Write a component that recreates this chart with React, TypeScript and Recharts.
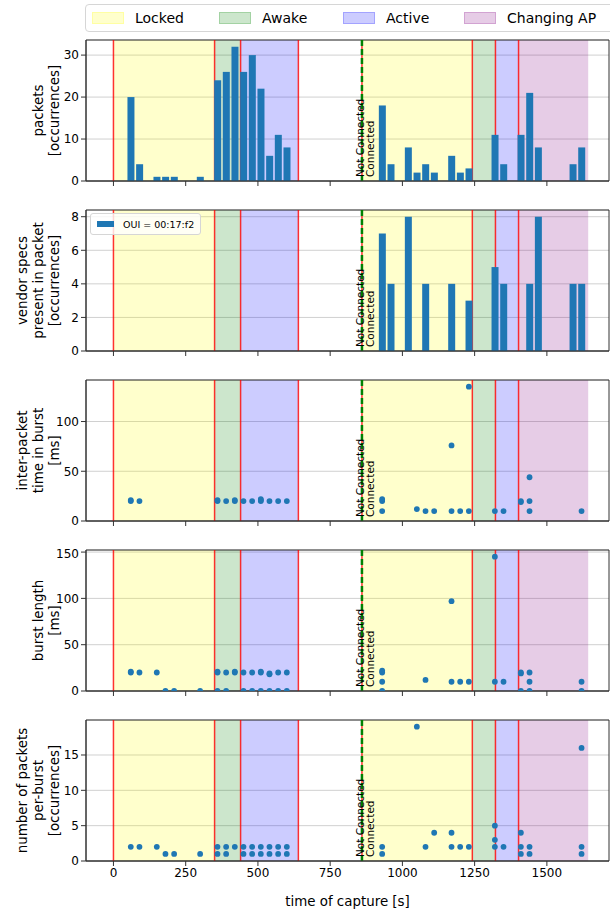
import React from 'react';
import {
  ComposedChart,
  Bar,
  Scatter,
  XAxis,
  YAxis,
  CartesianGrid,
  ReferenceArea,
  ReferenceLine,
} from 'recharts';

// shared time axis
const X_DOMAIN: [number, number] = [-95, 1715];
const xTicks = [0, 250, 500, 750, 1000, 1250, 1500];

// state spans
const spanStart = [0, 350, 440, 860, 1242, 1322, 1402];
const spanEnd = [350, 440, 640, 1242, 1322, 1402, 1643];
const spanState = ['Locked', 'Awake', 'Active', 'Locked', 'Awake', 'Active', 'Changing AP'];
const redLineTimes = [0, 350, 440, 640, 860, 1242, 1322, 1402];
const connectTime = 860;

const stateNames = ['Locked', 'Awake', 'Active', 'Changing AP'];
const stateColors: Record<string, string> = {
  Locked: '#ffff00',
  Awake: '#008000',
  Active: '#0000ff',
  'Changing AP': '#800080',
};

// packets
const packetTimes = [60, 90, 150, 180, 210, 300, 360, 390, 420, 450, 480, 510, 540, 570, 600, 930, 960, 1020, 1050, 1080, 1110, 1170, 1200, 1230, 1320, 1350, 1410, 1440, 1470, 1590, 1620];
const packetCounts = [20, 4, 1, 1, 1, 1, 24, 26, 32, 26, 30, 22, 6, 11, 8, 18, 4, 8, 2, 4, 2, 6, 2, 3, 11, 4, 11, 21, 8, 4, 8];

// vendor specs (OUI = 00:17:f2)
const vendorTimes = [930, 960, 1020, 1080, 1170, 1230, 1320, 1350, 1440, 1470, 1590, 1620];
const vendorCounts = [7, 4, 8, 4, 4, 3, 5, 4, 4, 8, 4, 4];

// inter-packet time in burst [ms]
const interTimes = [60, 60, 90, 360, 360, 390, 420, 420, 450, 480, 510, 510, 510, 540, 570, 600, 930, 930, 930, 1050, 1080, 1110, 1170, 1170, 1200, 1230, 1230, 1320, 1350, 1410, 1410, 1440, 1440, 1440, 1620];
const interValues = [20, 21, 20, 20, 21, 20, 20, 21, 20, 20, 20, 21, 22, 20, 20, 20, 10, 20, 22, 12, 10, 10, 10, 76, 10, 10, 135, 10, 10, 19, 20, 10, 20, 44, 10];

// burst length [ms]
const burstTimes = [60, 60, 90, 150, 180, 210, 300, 360, 360, 360, 390, 390, 420, 420, 450, 450, 480, 480, 510, 510, 510, 540, 540, 540, 570, 570, 600, 600, 930, 930, 930, 930, 1080, 1170, 1170, 1200, 1230, 1320, 1320, 1350, 1410, 1410, 1410, 1440, 1440, 1440, 1620, 1620];
const burstValues = [20, 21, 20, 20, 0, 0, 0, 0, 20, 21, 0, 20, 20, 21, 0, 20, 0, 20, 0, 20, 21, 0, 18, 19, 0, 20, 0, 20, 0, 10, 20, 22, 12, 10, 97, 10, 10, 10, 145, 10, 0, 19, 20, 0, 10, 20, 0, 10];

// packets per burst
const perBurstTimes = [60, 90, 150, 180, 210, 300, 360, 360, 390, 390, 420, 450, 450, 480, 480, 510, 510, 540, 540, 570, 570, 600, 600, 930, 930, 1050, 1080, 1110, 1170, 1170, 1200, 1230, 1320, 1320, 1320, 1350, 1410, 1410, 1410, 1440, 1440, 1620, 1620, 1620];
const perBurstValues = [2, 2, 2, 1, 1, 1, 1, 2, 1, 2, 2, 1, 2, 1, 2, 1, 2, 1, 2, 1, 2, 1, 2, 1, 2, 19, 2, 4, 2, 4, 2, 2, 2, 3, 5, 2, 1, 2, 4, 1, 2, 1, 2, 16];

const BLUE = '#1f77b4';
const PLOT_H = 141;

const connectLabel = (props: any) => {
  const vb = props.viewBox || {};
  const x = vb.x;
  const bottom = vb.y + vb.height - 4;
  const a = x + 1.7;
  const b = x + 11.7;
  return (
    <g>
      <text x={a} y={bottom} transform={`rotate(-90 ${a} ${bottom})`} fontSize={10.5} fill="#000">
        Not Connected
      </text>
      <text x={b} y={bottom} transform={`rotate(-90 ${b} ${bottom})`} fontSize={10.5} fill="#000">
        Connected
      </text>
    </g>
  );
};

const yLabel = (lines: string[]) => (props: any) => {
  const vb = props.viewBox || {};
  const cy = vb.y + vb.height / 2;
  const n = lines.length;
  return (
    <g>
      {lines.map((l, i) => {
        const cx = 54.5 - (n - 1 - i) * 16;
        return (
          <text
            key={i}
            x={cx}
            y={cy}
            transform={`rotate(-90 ${cx} ${cy})`}
            textAnchor="middle"
            dominantBaseline="central"
            fontSize={13.4}
            fill="#000"
          >
            {l}
          </text>
        );
      })}
    </g>
  );
};

const dot = (props: any) => <circle cx={props.cx} cy={props.cy} r={2.9} fill={BLUE} />;

interface PanelProps {
  top: number;
  xs: number[];
  ys: number[];
  kind: 'bar' | 'scatter';
  yMax: number;
  yTicks: number[];
  label: string[];
  bottom?: boolean;
}

function Panel({ top, xs, ys, kind, yMax, yTicks, label, bottom }: PanelProps) {
  const data = xs.map((x, i) => ({ x, y: ys[i] }));
  const axisH = bottom ? 50 : 30;
  return (
    <div style={{ position: 'absolute', left: 0, top: top - 4 }}>
      <ComposedChart
        width={610}
        height={4 + PLOT_H + axisH}
        data={data}
        margin={{ top: 4, right: 1, bottom: 0, left: 46 }}
      >
        <CartesianGrid vertical={false} stroke="#d0d0d0" />
        <XAxis
          type="number"
          dataKey="x"
          domain={X_DOMAIN}
          ticks={xTicks}
          allowDataOverflow
          height={axisH}
          tickSize={5}
          tickMargin={2}
          axisLine={{ stroke: '#333' }}
          tickLine={{ stroke: '#333' }}
          tick={{ fontSize: 12, fill: '#000' }}
          tickFormatter={bottom ? undefined : () => ''}
          label={
            bottom
              ? { value: 'time of capture [s]', position: 'insideBottom', offset: 5, fontSize: 13.4, fill: '#000' }
              : undefined
          }
        />
        <YAxis
          type="number"
          dataKey="y"
          domain={[0, yMax]}
          ticks={yTicks}
          allowDataOverflow
          width={40}
          tickSize={5}
          tickMargin={2}
          axisLine={{ stroke: '#333' }}
          tickLine={{ stroke: '#333' }}
          tick={{ fontSize: 12, fill: '#000' }}
          label={yLabel(label)}
        />
        {spanStart.map((s, i) => (
          <ReferenceArea
            key={`span-${i}`}
            x1={s}
            x2={spanEnd[i]}
            y1={0}
            y2={yMax}
            fill={stateColors[spanState[i]]}
            fillOpacity={0.2}
            stroke="none"
          />
        ))}
        {redLineTimes.map((t) => (
          <ReferenceLine
            key={`red-${t}`}
            x={t}
            stroke="#ff0000"
            strokeOpacity={0.8}
            strokeWidth={1.5}
            {...({ zIndex: 250 } as any)}
          />
        ))}
        <ReferenceLine x={connectTime} stroke="#008000" strokeWidth={2.5} strokeDasharray="6 3" label={connectLabel} />
        {kind === 'bar' && <Bar dataKey="y" fill={BLUE} barSize={7} isAnimationActive={false} />}
        {kind === 'scatter' && <Scatter data={data} dataKey="y" shape={dot} isAnimationActive={false} />}
        <ReferenceArea x1={X_DOMAIN[0]} x2={X_DOMAIN[1]} y1={0} y2={yMax} fill="none" stroke="#333" />
      </ComposedChart>
    </div>
  );
}

export default function App() {
  return (
    <div
      style={{
        position: 'absolute',
        left: 0,
        top: 0,
        width: 610,
        height: 920,
        overflow: 'hidden',
        background: '#fff',
        fontFamily: '"DejaVu Sans", sans-serif',
      }}
    >
      <Panel top={40} xs={packetTimes} ys={packetCounts} kind="bar" yMax={33.6} yTicks={[0, 10, 20, 30]} label={['packets', '[occurrences]']} />
      <Panel top={210} xs={vendorTimes} ys={vendorCounts} kind="bar" yMax={8.4} yTicks={[0, 2, 4, 6, 8]} label={['vendor specs', 'present in packet', '[occurrences]']} />
      <Panel top={380} xs={interTimes} ys={interValues} kind="scatter" yMax={141.75} yTicks={[0, 50, 100]} label={['inter-packet', 'time in burst', '[ms]']} />
      <Panel top={550} xs={burstTimes} ys={burstValues} kind="scatter" yMax={152.25} yTicks={[0, 50, 100, 150]} label={['burst length', '[ms]']} />
      <Panel top={719.5} xs={perBurstTimes} ys={perBurstValues} kind="scatter" yMax={19.95} yTicks={[0, 5, 10, 15]} label={['number of packets', 'per-burst', '[occurrences]']} bottom />

      {/* top legend */}
      <div
        style={{
          position: 'absolute',
          left: 85,
          top: 4,
          width: 534,
          height: 26,
          border: '1px solid #d6d6d6',
          borderRadius: 4,
          background: 'rgba(255,255,255,0.8)',
          fontSize: 14,
        }}
      >
        {stateNames.map((n, i) => {
          const left = [6, 133, 257, 378][i];
          return (
            <div key={n} style={{ position: 'absolute', left, top: 0, height: 26, display: 'flex', alignItems: 'center' }}>
              <div
                style={{
                  width: 30,
                  height: 10,
                  background: stateColors[n] + '33',
                  border: `1px solid ${stateColors[n]}33`,
                  marginRight: 11,
                }}
              />
              <span>{n}</span>
            </div>
          );
        })}
      </div>

      {/* panel 2 legend */}
      <div
        style={{
          position: 'absolute',
          left: 90,
          top: 213,
          width: 109,
          height: 20,
          border: '1px solid #d6d6d6',
          borderRadius: 3,
          background: 'rgba(255,255,255,0.8)',
          fontSize: 9.5,
          display: 'flex',
          alignItems: 'center',
        }}
      >
        <div style={{ width: 17, height: 6, background: BLUE, marginLeft: 6, marginRight: 9 }} />
        <span>OUI = 00:17:f2</span>
      </div>
    </div>
  );
}
